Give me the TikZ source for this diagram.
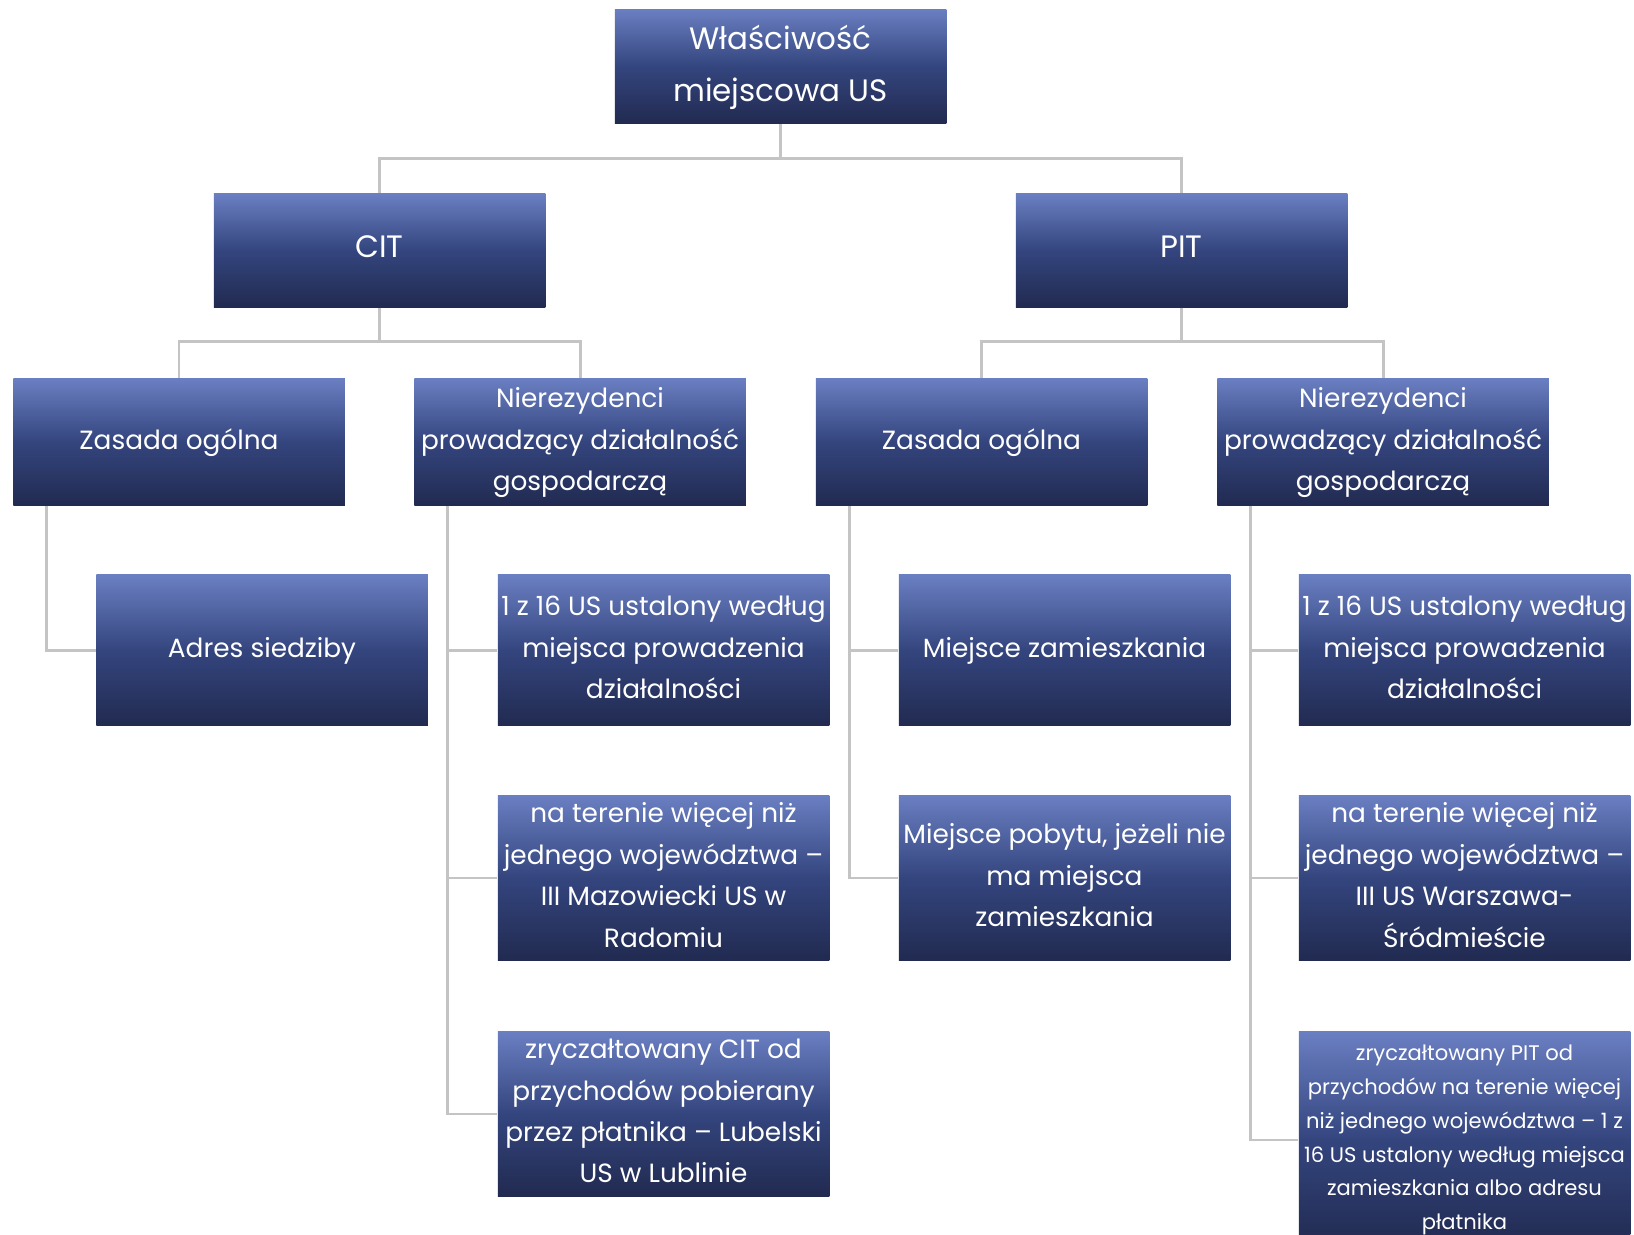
\documentclass[tikz,border=0pt]{standalone}
\usepackage{fontspec}
\setmainfont{Poppins}
\usepackage{xcolor}
\usepackage{tikz}
\definecolor{boxtop}{HTML}{6A7FC2}
\definecolor{boxmid}{HTML}{34457E}
\definecolor{boxbot}{HTML}{212A50}
\definecolor{linegray}{HTML}{C4C4C4}

\begin{document}
\begin{tikzpicture}[
  box/.style={minimum width=6.63cm, align=center, inner sep=0pt, text depth=0.12cm,
    text=white, top color=boxtop, bottom color=boxbot, middle color=boxmid,
    font=\fontsize{15}{23.6}\selectfont},
  bigbox/.style={box, text depth=0.14cm, font=\fontsize{17.6}{29.5}\selectfont},
  smallbox/.style={box, text depth=0.1cm, font=\fontsize{12}{19.2}\selectfont},
  conn/.style={draw=linegray, line width=1.7pt}]%
\useasboundingbox (0,0) rectangle (32.68,24.68);%
% level 0 and 1
\node[bigbox, minimum height=2.29cm] (top) at (15.61, 23.35) {Właściwość\\miejscowa US};%
\node[bigbox, minimum height=2.27cm] (cit) at (7.59, 19.67) {CIT};%
\node[bigbox, minimum height=2.27cm] (pit) at (23.63, 19.67) {PIT};%
% level 2
\node[box, minimum height=2.54cm] (czas) at (3.58, 15.84) {Zasada ogólna};%
\node[box, minimum height=2.54cm] (cnie) at (11.60, 15.84) {Nierezydenci\\prowadzący działalność\\gospodarczą};%
\node[box, minimum height=2.54cm] (pzas) at (19.63, 15.84) {Zasada ogólna};%
\node[box, minimum height=2.54cm] (pnie) at (27.66, 15.84) {Nierezydenci\\prowadzący działalność\\gospodarczą};%
% level 3
\node[box, minimum height=3.02cm] (cadr) at (5.24, 11.67) {Adres siedziby};%
\node[box, minimum height=3.02cm] (cn1) at (13.27, 11.67) {1 z 16 US ustalony według\\miejsca prowadzenia\\działalności};%
\node[box, minimum height=3.31cm] (cn2) at (13.27, 7.12) {na terenie więcej niż\\jednego województwa –\\III Mazowiecki US w\\Radomiu};%
\node[box, minimum height=3.29cm] (cn3) at (13.27, 2.40) {zryczałtowany CIT od\\przychodów pobierany\\przez płatnika – Lubelski\\US w Lublinie};%
\node[box, minimum height=3.02cm] (pz1) at (21.29, 11.67) {Miejsce zamieszkania};%
\node[box, minimum height=3.31cm] (pz2) at (21.29, 7.12) {Miejsce pobytu, jeżeli nie\\ma miejsca\\zamieszkania};%
\node[box, minimum height=3.02cm] (pn1) at (29.29, 11.67) {1 z 16 US ustalony według\\miejsca prowadzenia\\działalności};%
\node[box, minimum height=3.31cm] (pn2) at (29.29, 7.12) {na terenie więcej niż\\jednego województwa –\\III US Warszawa-\\Śródmieście};%
\node[smallbox, minimum height=4.33cm] (pn3) at (29.29, 1.88) {zryczałtowany PIT od\\przychodów na terenie więcej\\niż jednego województwa – 1 z\\16 US ustalony według miejsca\\zamieszkania albo adresu\\płatnika};%
% connectors
\coordinate (j0) at (15.61, 21.51);%
\coordinate (j1) at (7.59, 17.84);%
\coordinate (j2) at (23.63, 17.84);%
\draw[conn] (top.south) -- (j0);%
\draw[conn] (j0) -| (cit.north);%
\draw[conn] (j0) -| (pit.north);%
\draw[conn] (cit.south) -- (j1);%
\draw[conn] (j1) -| (czas.north);%
\draw[conn] (j1) -| (cnie.north);%
\draw[conn] (pit.south) -- (j2);%
\draw[conn] (j2) -| (pzas.north);%
\draw[conn] (j2) -| (pnie.north);%
\draw[conn] ([xshift=0.68cm]czas.south west) |- (cadr.west);%
\draw[conn] ([xshift=0.68cm]cnie.south west) |- (cn1.west);%
\draw[conn] ([xshift=0.68cm]cnie.south west) |- (cn2.west);%
\draw[conn] ([xshift=0.68cm]cnie.south west) |- (cn3.west);%
\draw[conn] ([xshift=0.68cm]pzas.south west) |- (pz1.west);%
\draw[conn] ([xshift=0.68cm]pzas.south west) |- (pz2.west);%
\draw[conn] ([xshift=0.68cm]pnie.south west) |- (pn1.west);%
\draw[conn] ([xshift=0.68cm]pnie.south west) |- (pn2.west);%
\draw[conn] ([xshift=0.68cm]pnie.south west) |- (pn3.west);%
\end{tikzpicture}
\end{document}
